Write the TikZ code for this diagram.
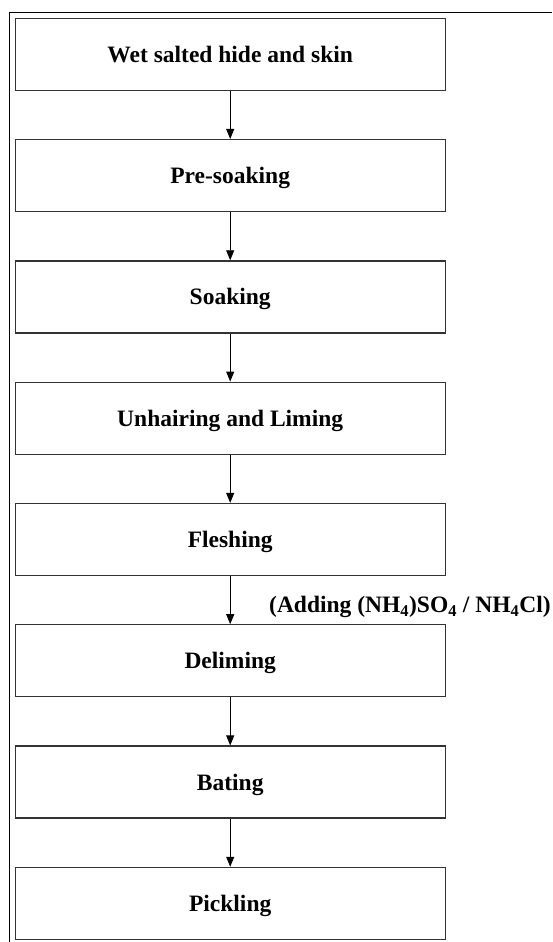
\documentclass[tikz,border=0pt]{standalone}
\usepackage{fontspec}
\setmainfont{Liberation Serif}
\usetikzlibrary{arrows.meta}
\begin{document}
\begin{tikzpicture}[x=1pt,y=-1pt,
  stepbox/.style={draw=black!80, line width=1.3pt, minimum width=430pt,
    minimum height=72pt, inner sep=0pt, text height=15.8pt, text depth=0pt,
    font=\fontsize{23.5}{26}\selectfont\bfseries},
  flow/.style={-{Triangle[length=10pt,width=8pt]}, line width=0.9pt},
  note/.style={font=\fontsize{23.5}{26}\selectfont\bfseries, inner sep=0pt, anchor=base west}]
\useasboundingbox (0,0) rectangle (552,942);
\draw[line width=1pt] (9.3,942) -- (9.3,12.3) -- (552,12.3);
\node[stepbox] (s1) at (230.2,54.3) {Wet salted hide and skin};
\node[stepbox] (s2) at (230.2,175.6) {Pre-soaking};
\node[stepbox] (s3) at (230.2,296.9) {Soaking};
\node[stepbox] (s4) at (230.2,418.2) {Unhairing and Liming};
\node[stepbox] (s5) at (230.2,539.5) {Fleshing};
\node[stepbox] (s6) at (230.2,660.8) {Deliming};
\node[stepbox] (s7) at (230.2,782.1) {Bating};
\node[stepbox] (s8) at (230.2,903.4) {Pickling};
\draw[flow] (s1) -- (s2);
\draw[flow] (s2) -- (s3);
\draw[flow] (s3) -- (s4);
\draw[flow] (s4) -- (s5);
\draw[flow] (s5) -- (s6);
\draw[flow] (s6) -- (s7);
\draw[flow] (s7) -- (s8);
\node[note] (lbl) at (269,612.5) {(Adding (NH\textsubscript{4})SO\textsubscript{4} / NH\textsubscript{4}Cl)};
\end{tikzpicture}
\end{document}
